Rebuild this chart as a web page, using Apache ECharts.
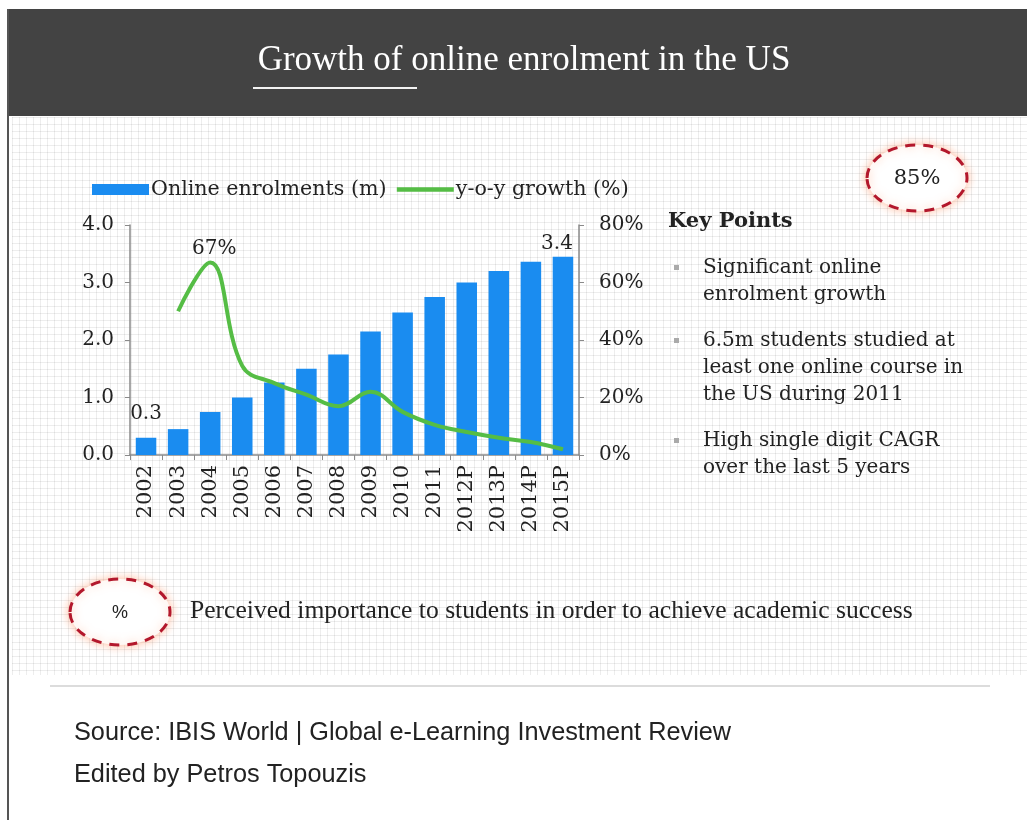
<!DOCTYPE html>
<html>
<head>
<meta charset="utf-8">
<script src="https://cdn.jsdelivr.net/npm/echarts@6/dist/echarts.min.js"></script>
<style>
  html, body { margin: 0; padding: 0; background: #fff; }
  #wrap { position: relative; width: 1027px; height: 820px; overflow: hidden; }
  #paper {
    position: absolute; left: 12px; top: 117px; width: 1015px; height: 558px;
    background-color: #fff;
    background-image:
      linear-gradient(rgba(0,0,0,0.07) 1px, transparent 1px),
      linear-gradient(90deg, rgba(0,0,0,0.07) 1px, transparent 1px);
    background-size: 7px 7px;
  }
  #chart { position: absolute; left: 0; top: 0; width: 1027px; height: 820px; }
</style>
</head>
<body>
<div id="wrap">
  <div id="paper"></div>
  <div id="chart"></div>
</div>
<script>
var years = ['2002', '2003', '2004', '2005', '2006', '2007', '2008', '2009', '2010', '2011', '2012P', '2013P', '2014P', '2015P'];
// online enrolments, millions
var enrolments = [0.3, 0.45, 0.75, 1.0, 1.26, 1.5, 1.75, 2.15, 2.48, 2.75, 3.0, 3.2, 3.36, 3.45];
// year-on-year growth, %
var growth = [null, 50, 67, 31, 25, 21, 17, 22, 15, 10.5, 8, 6, 4.5, 2];
var leftTicks = [0, 1, 2, 3, 4];
var rightTicks = [0, 20, 40, 60, 80];
var keyPoints = [
  ['Significant online', 'enrolment growth'],
  ['6.5m students studied at', 'least one online course in', 'the US during 2011'],
  ['High single digit CAGR', 'over the last 5 years']
];

var serif = '"DejaVu Serif", serif';
var BLUE = '#1a8cf0';
var GREEN = '#55bd45';

var chart = echarts.init(document.getElementById('chart'));

var barData = enrolments.map(function (v, i) {
  if (i === 0) {
    return { value: v, label: { show: true, distance: 14, offset: [0, 0] } };
  }
  if (i === enrolments.length - 1) {
    return { value: v, label: { show: true, distance: 3, offset: [-6, 0], formatter: '3.4' } };
  }
  return v;
});
var lineData = growth.map(function (v, i) {
  if (i === 2) {
    return { value: v, label: { show: true, position: 'top', distance: 4, offset: [4, 0], formatter: '{c}%' } };
  }
  return v;
});

// side text blocks
var gfx = [
  { type: 'rect', shape: { x: 7, y: 9, width: 1020, height: 107 }, style: { fill: '#434343' } },
  { type: 'line', shape: { x1: 8, y1: 9, x2: 8, y2: 820 }, style: { stroke: '#555', lineWidth: 2 } },
  { type: 'text', x: 524, y: 61, style: { text: 'Growth of online enrolment in the US', fill: '#fff',
      font: '35px "Liberation Serif", serif', align: 'center', verticalAlign: 'middle' } },
  { type: 'line', shape: { x1: 253, y1: 88, x2: 417, y2: 88 }, style: { stroke: '#f2f2f2', lineWidth: 2 } },
  { type: 'text', x: 668, y: 222, style: { text: 'Key Points', fill: '#222',
      font: 'bold 21px ' + serif, verticalAlign: 'middle' } },
  { type: 'ellipse', shape: { cx: 917, cy: 178, rx: 50, ry: 33 },
    style: { fill: '#fff', stroke: '#b3182c', lineWidth: 3, lineDash: [10, 8],
      shadowBlur: 10, shadowColor: 'rgba(255,140,90,0.55)' } },
  { type: 'text', x: 917, y: 179, style: { text: '85%', fill: '#222', font: '21px ' + serif,
      align: 'center', verticalAlign: 'middle' } },
  { type: 'ellipse', shape: { cx: 120, cy: 612, rx: 50, ry: 33 },
    style: { fill: '#fff', stroke: '#b3182c', lineWidth: 3, lineDash: [10, 8],
      shadowBlur: 10, shadowColor: 'rgba(255,140,90,0.55)' } },
  { type: 'text', x: 120, y: 613, style: { text: '%', fill: '#222', font: '18px "Liberation Sans", sans-serif',
      align: 'center', verticalAlign: 'middle' } },
  { type: 'text', x: 190, y: 611, style: { text: 'Perceived importance to students in order to achieve academic success',
      fill: '#222', font: '25.6px "Liberation Serif", serif', verticalAlign: 'middle' } },
  { type: 'line', shape: { x1: 50, y1: 686, x2: 990, y2: 686 }, style: { stroke: '#dcdcdc', lineWidth: 2 } },
  { type: 'text', x: 74, y: 733, style: { text: 'Source: IBIS World | Global e-Learning Investment Review',
      fill: '#222', font: '25.3px "Liberation Sans", sans-serif', verticalAlign: 'middle' } },
  { type: 'text', x: 74, y: 775, style: { text: 'Edited by Petros Topouzis',
      fill: '#222', font: '25.3px "Liberation Sans", sans-serif', verticalAlign: 'middle' } }
];
var ly = 268;
keyPoints.forEach(function (pt, k) {
  gfx.push({ type: 'rect', shape: { x: 674, y: ly - 3, width: 5, height: 5 }, style: { fill: '#aaa' } });
  pt.forEach(function (line) {
    gfx.push({ type: 'text', x: 703, y: ly, style: { text: line, fill: '#222',
      font: '20px ' + serif, verticalAlign: 'middle' } });
    ly += 27;
  });
  ly += 19;
});

var option = {
  animation: false,
  backgroundColor: 'transparent',
  legend: {
    left: 87, top: 174, itemGap: 8, itemWidth: 57, itemHeight: 11,
    textStyle: { fontFamily: serif, fontSize: 20.6, color: '#222', padding: [0, 0, 0, -3] },
    data: [
      { name: 'Online enrolments (m)', icon: 'rect' },
      { name: 'y-o-y growth (%)', itemStyle: { opacity: 0 }, lineStyle: { width: 4.5 } }
    ]
  },
  grid: { left: 130, top: 225, width: 449, height: 230 },
  xAxis: {
    type: 'category', data: years,
    axisLine: { lineStyle: { color: '#8a8a8a', width: 1.5 } },
    axisTick: { show: true, length: 5, lineStyle: { color: '#8a8a8a' } },
    axisLabel: { rotate: 90, margin: 10, fontFamily: serif, fontSize: 21, color: '#222' }
  },
  yAxis: [
    {
      type: 'value', min: leftTicks[0], max: leftTicks[leftTicks.length - 1], interval: 1,
      axisLine: { show: true, lineStyle: { color: '#8a8a8a', width: 1.5 } },
      axisTick: { show: true, length: 5, lineStyle: { color: '#8a8a8a' } },
      splitLine: { show: false },
      axisLabel: { fontFamily: serif, fontSize: 20, color: '#222', margin: 16,
        formatter: function (v) { return v.toFixed(1); } }
    },
    {
      type: 'value', position: 'right', min: rightTicks[0], max: rightTicks[rightTicks.length - 1], interval: 20,
      axisLine: { show: true, lineStyle: { color: '#8a8a8a', width: 1.5 } },
      axisTick: { show: true, length: 5, lineStyle: { color: '#8a8a8a' } },
      splitLine: { show: false },
      axisLabel: { fontFamily: serif, fontSize: 20, color: '#222', margin: 20, formatter: '{value}%' }
    }
  ],
  series: [
    {
      name: 'Online enrolments (m)', type: 'bar', data: barData, barCategoryGap: '36%',
      itemStyle: { color: BLUE },
      label: { show: false, position: 'top', fontFamily: serif, fontSize: 20, color: '#222' }
    },
    {
      name: 'y-o-y growth (%)', type: 'line', yAxisIndex: 1, data: lineData,
      smooth: 0.4, symbol: 'circle', symbolSize: 0.1, showSymbol: true, connectNulls: false,
      lineStyle: { color: GREEN, width: 4 }, itemStyle: { color: GREEN },
      label: { show: false, fontFamily: serif, fontSize: 20, color: '#222' }
    }
  ],
  graphic: gfx
};
chart.setOption(option);
</script>
</body>
</html>
